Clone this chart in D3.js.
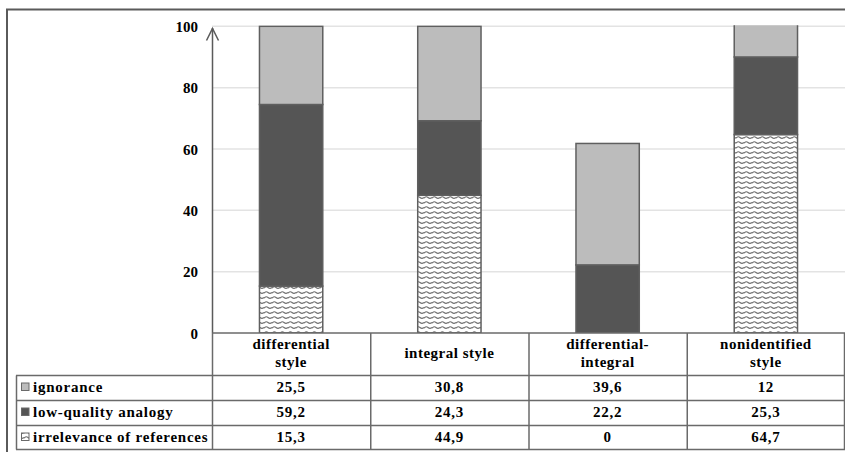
<!DOCTYPE html>
<html><head><meta charset="utf-8">
<script src="https://cdn.jsdelivr.net/npm/d3@7"></script>
<style>
html,body{margin:0;padding:0;background:#fff;}
</style></head>
<body>
<script>
const categories = ["differential style", "integral style", "differential-integral", "nonidentified style"];
const headerLines = [["differential", "style"], ["integral style"], ["differential-", "integral"], ["nonidentified", "style"]];
const seriesNames = ["ignorance", "low-quality analogy", "irrelevance of references"];
const ignorance = [25.5, 30.8, 39.6, 12];
const lowQuality = [59.2, 24.3, 22.2, 25.3];
const irrelevance = [15.3, 44.9, 0, 64.7];
const yTicks = [0, 20, 40, 60, 80, 100];

const FONT = "'Liberation Serif', 'Times New Roman', serif";
const W = 845, H = 452;
const svg = d3.select("body").append("svg").attr("width", W).attr("height", H);
const defs = svg.append("defs");
const pat = defs.append("pattern").attr("id", "wave").attr("patternUnits", "userSpaceOnUse")
  .attr("width", 8).attr("height", 5);
pat.append("rect").attr("width", 8).attr("height", 5).attr("fill", "#fff");
pat.append("path").attr("d", "M0 3.2 Q2 0.6 4 2.5 T8 2.5").attr("fill", "none")
  .attr("stroke", "#707070").attr("stroke-width", 1.1);

function styleText(sel, size, ls) {
  return sel.style("font-family", FONT).style("font-weight", "bold").style("font-size", size + "px")
    .style("letter-spacing", (ls || 0) + "px").attr("fill", "#000");
}

const x = d3.scaleBand().domain(categories).range([212, 845]).padding(0);
const y = d3.scaleLinear().domain([0, 100]).range([333, 26.3]);

defs.append("clipPath").attr("id", "plotclip").append("rect")
  .attr("x", 212).attr("y", y(100) - 1).attr("width", 633).attr("height", y(0) - y(100) + 1);

// gridlines
svg.append("g").selectAll("line").data(yTicks.filter(d => d > 0)).join("line")
  .attr("x1", 212).attr("x2", 845).attr("y1", d => y(d)).attr("y2", d => y(d))
  .attr("stroke", "#e3e3e3").attr("stroke-width", 1.5);

// frame
svg.append("path").attr("d", `M7,452 V9.5 H845`).attr("fill", "none")
  .attr("stroke", "#5a5a5a").attr("stroke-width", 2);

// stacked bars
const data = categories.map((c, i) => ({cat: c, irr: irrelevance[i], low: lowQuality[i], ign: ignorance[i]}));
const stack = d3.stack().keys(["irr", "low", "ign"])(data);
const fills = {irr: "url(#wave)", low: "#555555", ign: "#bcbcbc"};
const bw = x.bandwidth() * 0.4;
const gBars = svg.append("g").attr("clip-path", "url(#plotclip)");
stack.forEach(layer => {
  gBars.append("g").selectAll("rect").data(layer).join("rect")
    .attr("x", d => x(d.data.cat) + (x.bandwidth() - bw) / 2)
    .attr("width", bw)
    .attr("y", d => y(d[1]))
    .attr("height", d => Math.max(0, y(d[0]) - y(d[1])))
    .attr("fill", fills[layer.key])
    .attr("stroke", d => (d[1] - d[0]) > 0 ? "#5f5f5f" : "none")
    .attr("stroke-width", 1.5);
});

// y axis with arrow
const yAxis = d3.axisLeft(y).tickValues(yTicks).tickSize(0).tickPadding(14);
const gy = svg.append("g").attr("transform", "translate(212,0)").call(yAxis);
gy.attr("font-family", null).attr("font-size", null);
gy.select(".domain").remove();
styleText(gy.selectAll("text"), 15, 0).attr("dy", "0.35em");
svg.append("line").attr("x1", 212.5).attr("x2", 212.5).attr("y1", y(0)).attr("y2", 28)
  .attr("stroke", "#5a5a5a").attr("stroke-width", 1.5);
svg.append("path").attr("d", "M206.5,40.5 L212.5,28.5 L218.5,40.5").attr("fill", "none")
  .attr("stroke", "#5a5a5a").attr("stroke-width", 1.5);

// data table
const rowTops = [375.5, 400.5, 425.5, 449.5];
const tbl = svg.append("g");
const lc = "#6a6a6a";
tbl.append("line").attr("x1", 212).attr("x2", 845).attr("y1", 333).attr("y2", 333).attr("stroke", lc).attr("stroke-width", 1.5);
rowTops.forEach(t => tbl.append("line").attr("x1", 16).attr("x2", 845).attr("y1", t).attr("y2", t).attr("stroke", lc).attr("stroke-width", 1.5));
tbl.append("line").attr("x1", 16.5).attr("x2", 16.5).attr("y1", 375.5).attr("y2", 449.5).attr("stroke", lc).attr("stroke-width", 1.5);
const colEdges = categories.map(c => x(c)).concat([844]);
colEdges.forEach(e => tbl.append("line").attr("x1", e + 0.5).attr("x2", e + 0.5).attr("y1", 333).attr("y2", 449.5).attr("stroke", lc).attr("stroke-width", 1.5));

// headers
categories.forEach((c, i) => {
  const lines = headerLines[i];
  const cx = x(c) + x.bandwidth() / 2;
  const t = styleText(tbl.append("text").attr("x", cx).attr("text-anchor", "middle"), 15, 0.5);
  if (lines.length === 1) {
    t.append("tspan").attr("x", cx).attr("y", 358).text(lines[0]);
  } else {
    t.append("tspan").attr("x", cx).attr("y", 349).text(lines[0]);
    t.append("tspan").attr("x", cx).attr("y", 366.5).text(lines[1]);
  }
});

const rows = [ignorance, lowQuality, irrelevance];
const fmt = v => String(v).replace(".", ",");
rows.forEach((vals, r) => {
  const base = rowTops[r] + 16.8;
  tbl.append("rect").attr("x", 21.5).attr("y", rowTops[r] + 7.5).attr("width", 7.5).attr("height", 7.5)
    .attr("fill", r === 0 ? "#bcbcbc" : r === 1 ? "#555555" : "url(#wave)")
    .attr("stroke", "#6a6a6a").attr("stroke-width", 1);
  styleText(tbl.append("text").attr("x", 33).attr("y", base), 15, 0.75).text(seriesNames[r]);
  vals.forEach((v, i) => {
    styleText(tbl.append("text").attr("x", x(categories[i]) + x.bandwidth() / 2).attr("y", base)
      .attr("text-anchor", "middle"), 15, 0.7).text(fmt(v));
  });
});
</script>
</body></html>
